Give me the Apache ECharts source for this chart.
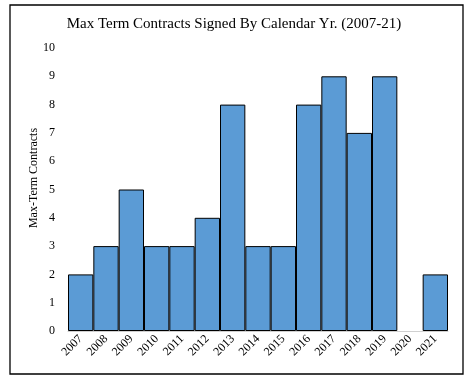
<!DOCTYPE html>
<html><head><meta charset="utf-8">
<script src="https://cdn.jsdelivr.net/npm/echarts@6/dist/echarts.min.js"></script>
<style>html,body{margin:0;padding:0;background:#fff}#c{width:468px;height:378px}</style>
</head><body><div id="c"></div>
<script>
const years = ['2007','2008','2009','2010','2011','2012','2013','2014','2015','2016','2017','2018','2019','2020','2021'];
const contracts = [2,3,5,3,3,4,8,3,3,8,9,7,9,0,2];
const yTicks = [0,1,2,3,4,5,6,7,8,9,10];
const serif = '"Liberation Serif", "DejaVu Serif", serif';
const chart = echarts.init(document.getElementById('c'));
chart.setOption({
  animation:false,
  backgroundColor:'#fff',
  graphic:[
    {type:'rect',shape:{x:10,y:5,width:453,height:369},style:{fill:'none',stroke:'#000',lineWidth:1.3},silent:true},
    {type:'text',x:34,y:178,rotation:Math.PI/2,
      style:{text:'Max-Term Contracts',fontFamily:serif,fontSize:12,fill:'#000',align:'center',verticalAlign:'middle'},silent:true}
  ],
  title:{text:'Max Term Contracts Signed By Calendar Yr. (2007-21)',left:'center',top:12,
    textStyle:{fontFamily:serif,fontSize:15,fontWeight:'normal',color:'#000'}},
  grid:{left:68,right:20,top:48,bottom:47},
  xAxis:{type:'category',data:years,
    axisLine:{lineStyle:{color:'#d0d0d0'}},axisTick:{show:false},
    axisLabel:{rotate:45,fontFamily:serif,fontSize:12,color:'#000',margin:6,interval:0}},
  yAxis:{type:'value',min:0,max:10,interval:1,
    axisLine:{show:false},axisTick:{show:false},splitLine:{show:false},
    axisLabel:{fontFamily:serif,fontSize:12,color:'#000',margin:13,
      formatter:v=>yTicks.includes(v)?String(v):''}},
  series:[{type:'bar',barCategoryGap:'0%',
    data:contracts.map(v=>v===0?{value:v,itemStyle:{borderWidth:0}}:v),
    itemStyle:{color:'#5B9BD5',borderColor:'#000',borderWidth:1}}]
});
</script></body></html>
